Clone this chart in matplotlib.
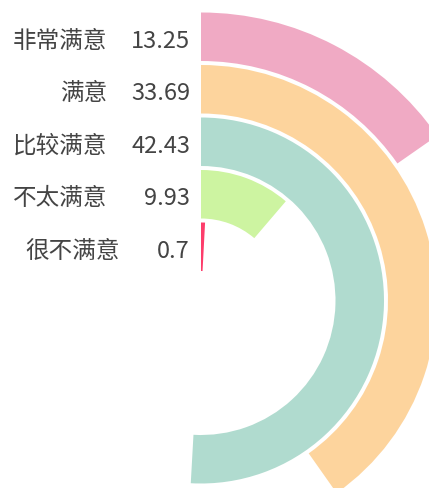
import matplotlib

matplotlib.use('Agg')
import matplotlib.pyplot as plt
import numpy as np

plt.rcParams['font.family'] = ['Noto Sans CJK SC', 'DejaVu Sans']

# innermost ring first
categories = ['很不满意', '不太满意', '比较满意', '满意', '非常满意']
values = [0.7, 9.93, 42.43, 33.69, 13.25]
value_labels = ['0.7', '9.93', '42.43', '33.69', '13.25']
colors = ['#fd3d6b', '#cdf4a1', '#b0dbcf', '#fdd49d', '#f0aac4']
# angle axis range (starts at the smallest value)
angle_min, angle_max = 0.7, 82.7
min_bar_deg = 3.0

W, H = 429, 488
cx, cy = 201, 300.5      # pixel centre of the polar plot
R = 300                  # pixel radius of the polar axes
r0, pitch, bar_w = 29.5, 52.5, 48.5

fig = plt.figure(figsize=(W / 100, H / 100), dpi=100)
ax = fig.add_axes([(cx - R) / W, (H - cy - R) / H, 2 * R / W, 2 * R / H],
                  projection='polar')
ax.set_theta_zero_location('N')
ax.set_theta_direction(-1)
ax.set_ylim(0, R)
ax.axis('off')

idx = np.arange(len(categories))
frac = (np.array(values) - angle_min) / (angle_max - angle_min)
theta = np.maximum(frac * 2 * np.pi, np.deg2rad(min_bar_deg))
bottoms = r0 + pitch * idx
ax.bar(0, bar_w, width=theta, bottom=bottoms, align='edge', color=colors,
       edgecolor='none')

# labels to the left of the start line
name_dx = [-81, -94, -94, -94, -94]
for i in idx:
    rc = bottoms[i] + bar_w / 2
    ax.annotate(value_labels[i], xy=(0, rc), xytext=(-11, -2),
                textcoords='offset pixels', ha='right', va='center_baseline',
                fontsize=17, color='#444444', annotation_clip=False)
    ax.annotate(categories[i], xy=(0, rc), xytext=(name_dx[i], -2),
                textcoords='offset pixels', ha='right', va='center_baseline',
                fontsize=17, color='#444444', annotation_clip=False)

fig.savefig('out.png', dpi=100)
